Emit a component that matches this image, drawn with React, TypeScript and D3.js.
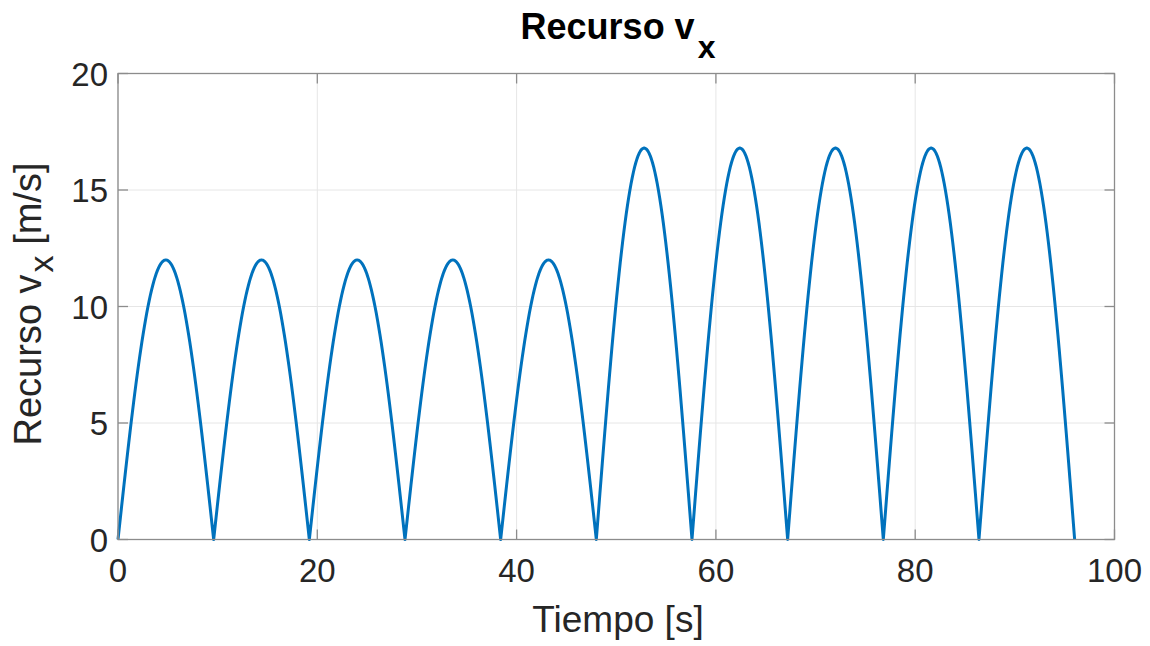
import React from "react";
import * as d3 from "d3";

// Arches of |v_x| over time: start/end time of each arch and its peak value
const archStart = [0, 9.6, 19.2, 28.8, 38.4, 48.0, 57.6, 67.2, 76.8, 86.4];
const archEnd = [9.6, 19.2, 28.8, 38.4, 48.0, 57.6, 67.2, 76.8, 86.4, 96.0];
const archPeak = [12, 12, 12, 12, 12, 16.8, 16.8, 16.8, 16.8, 16.8];
const xTicks = [0, 20, 40, 60, 80, 100];
const yTicks = [0, 5, 10, 15, 20];

const W = 1150, H = 646;
const L = 118, R = 1114.5, T = 73.5, B = 539.5;

export default function App() {
  const x = d3.scaleLinear().domain([0, 100]).range([L, R]);
  const y = d3.scaleLinear().domain([0, 20]).range([B, T]);

  const pts: [number, number][] = [];
  archStart.forEach((s, i) => {
    const e = archEnd[i];
    const n = 80;
    for (let k = i === 0 ? 0 : 1; k <= n; k++) {
      const f = k / n;
      pts.push([s + (e - s) * f, archPeak[i] * Math.sin(Math.PI * f)]);
    }
  });
  const line = d3.line<[number, number]>().x(d => x(d[0])).y(d => y(d[1]));

  const font = "'Liberation Sans', Arial, Helvetica, sans-serif";
  const txt = "#262626";
  const axc = "#8c8c8c";
  return (
    <svg width={W} height={H} style={{ position: "absolute", left: 0, top: 0, background: "#fff" }} fontFamily={font}>
      <rect x={0} y={0} width={W} height={H} fill="#fff" />
      {xTicks.map(t => (
        <line key={"gx" + t} x1={x(t)} x2={x(t)} y1={T} y2={B} stroke="#e6e6e6" strokeWidth={1} />
      ))}
      {yTicks.map(t => (
        <line key={"gy" + t} x1={L} x2={R} y1={y(t)} y2={y(t)} stroke="#e6e6e6" strokeWidth={1} />
      ))}
      <path d={line(pts) || ""} fill="none" stroke="#0072BD" strokeWidth={3} strokeLinejoin="round" />
      <rect x={L} y={T} width={R - L} height={B - T} fill="none" stroke={axc} strokeWidth={1.3} />
      {xTicks.map(t => (
        <g key={"tx" + t}>
          <line x1={x(t)} x2={x(t)} y1={B} y2={B - 10} stroke={axc} strokeWidth={1.3} />
          <line x1={x(t)} x2={x(t)} y1={T} y2={T + 10} stroke={axc} strokeWidth={1.3} />
          <text x={x(t)} y={582} textAnchor="middle" fontSize={33} fill={txt}>{t}</text>
        </g>
      ))}
      {yTicks.map(t => (
        <g key={"ty" + t}>
          <line x1={L} x2={L + 10} y1={y(t)} y2={y(t)} stroke={axc} strokeWidth={1.3} />
          <line x1={R} x2={R - 10} y1={y(t)} y2={y(t)} stroke={axc} strokeWidth={1.3} />
          <text x={108} y={y(t) + 12} textAnchor="end" fontSize={33} fill={txt}>{t}</text>
        </g>
      ))}
      <text x={618} y={39} textAnchor="middle" fontSize={36} fontWeight="bold" fill="#000">
        Recurso v<tspan dx={3} dy={19} fontSize={32}>x</tspan>
      </text>
      <text x={618} y={632} textAnchor="middle" fontSize={37} fill={txt}>Tiempo [s]</text>
      <text transform={`translate(41, 304) rotate(-90)`} textAnchor="middle" fontSize={38} fill={txt}>
        Recurso v<tspan dx={2} dy={12} fontSize={34}>x</tspan><tspan dy={-12}> [m/s]</tspan>
      </text>
    </svg>
  );
}
